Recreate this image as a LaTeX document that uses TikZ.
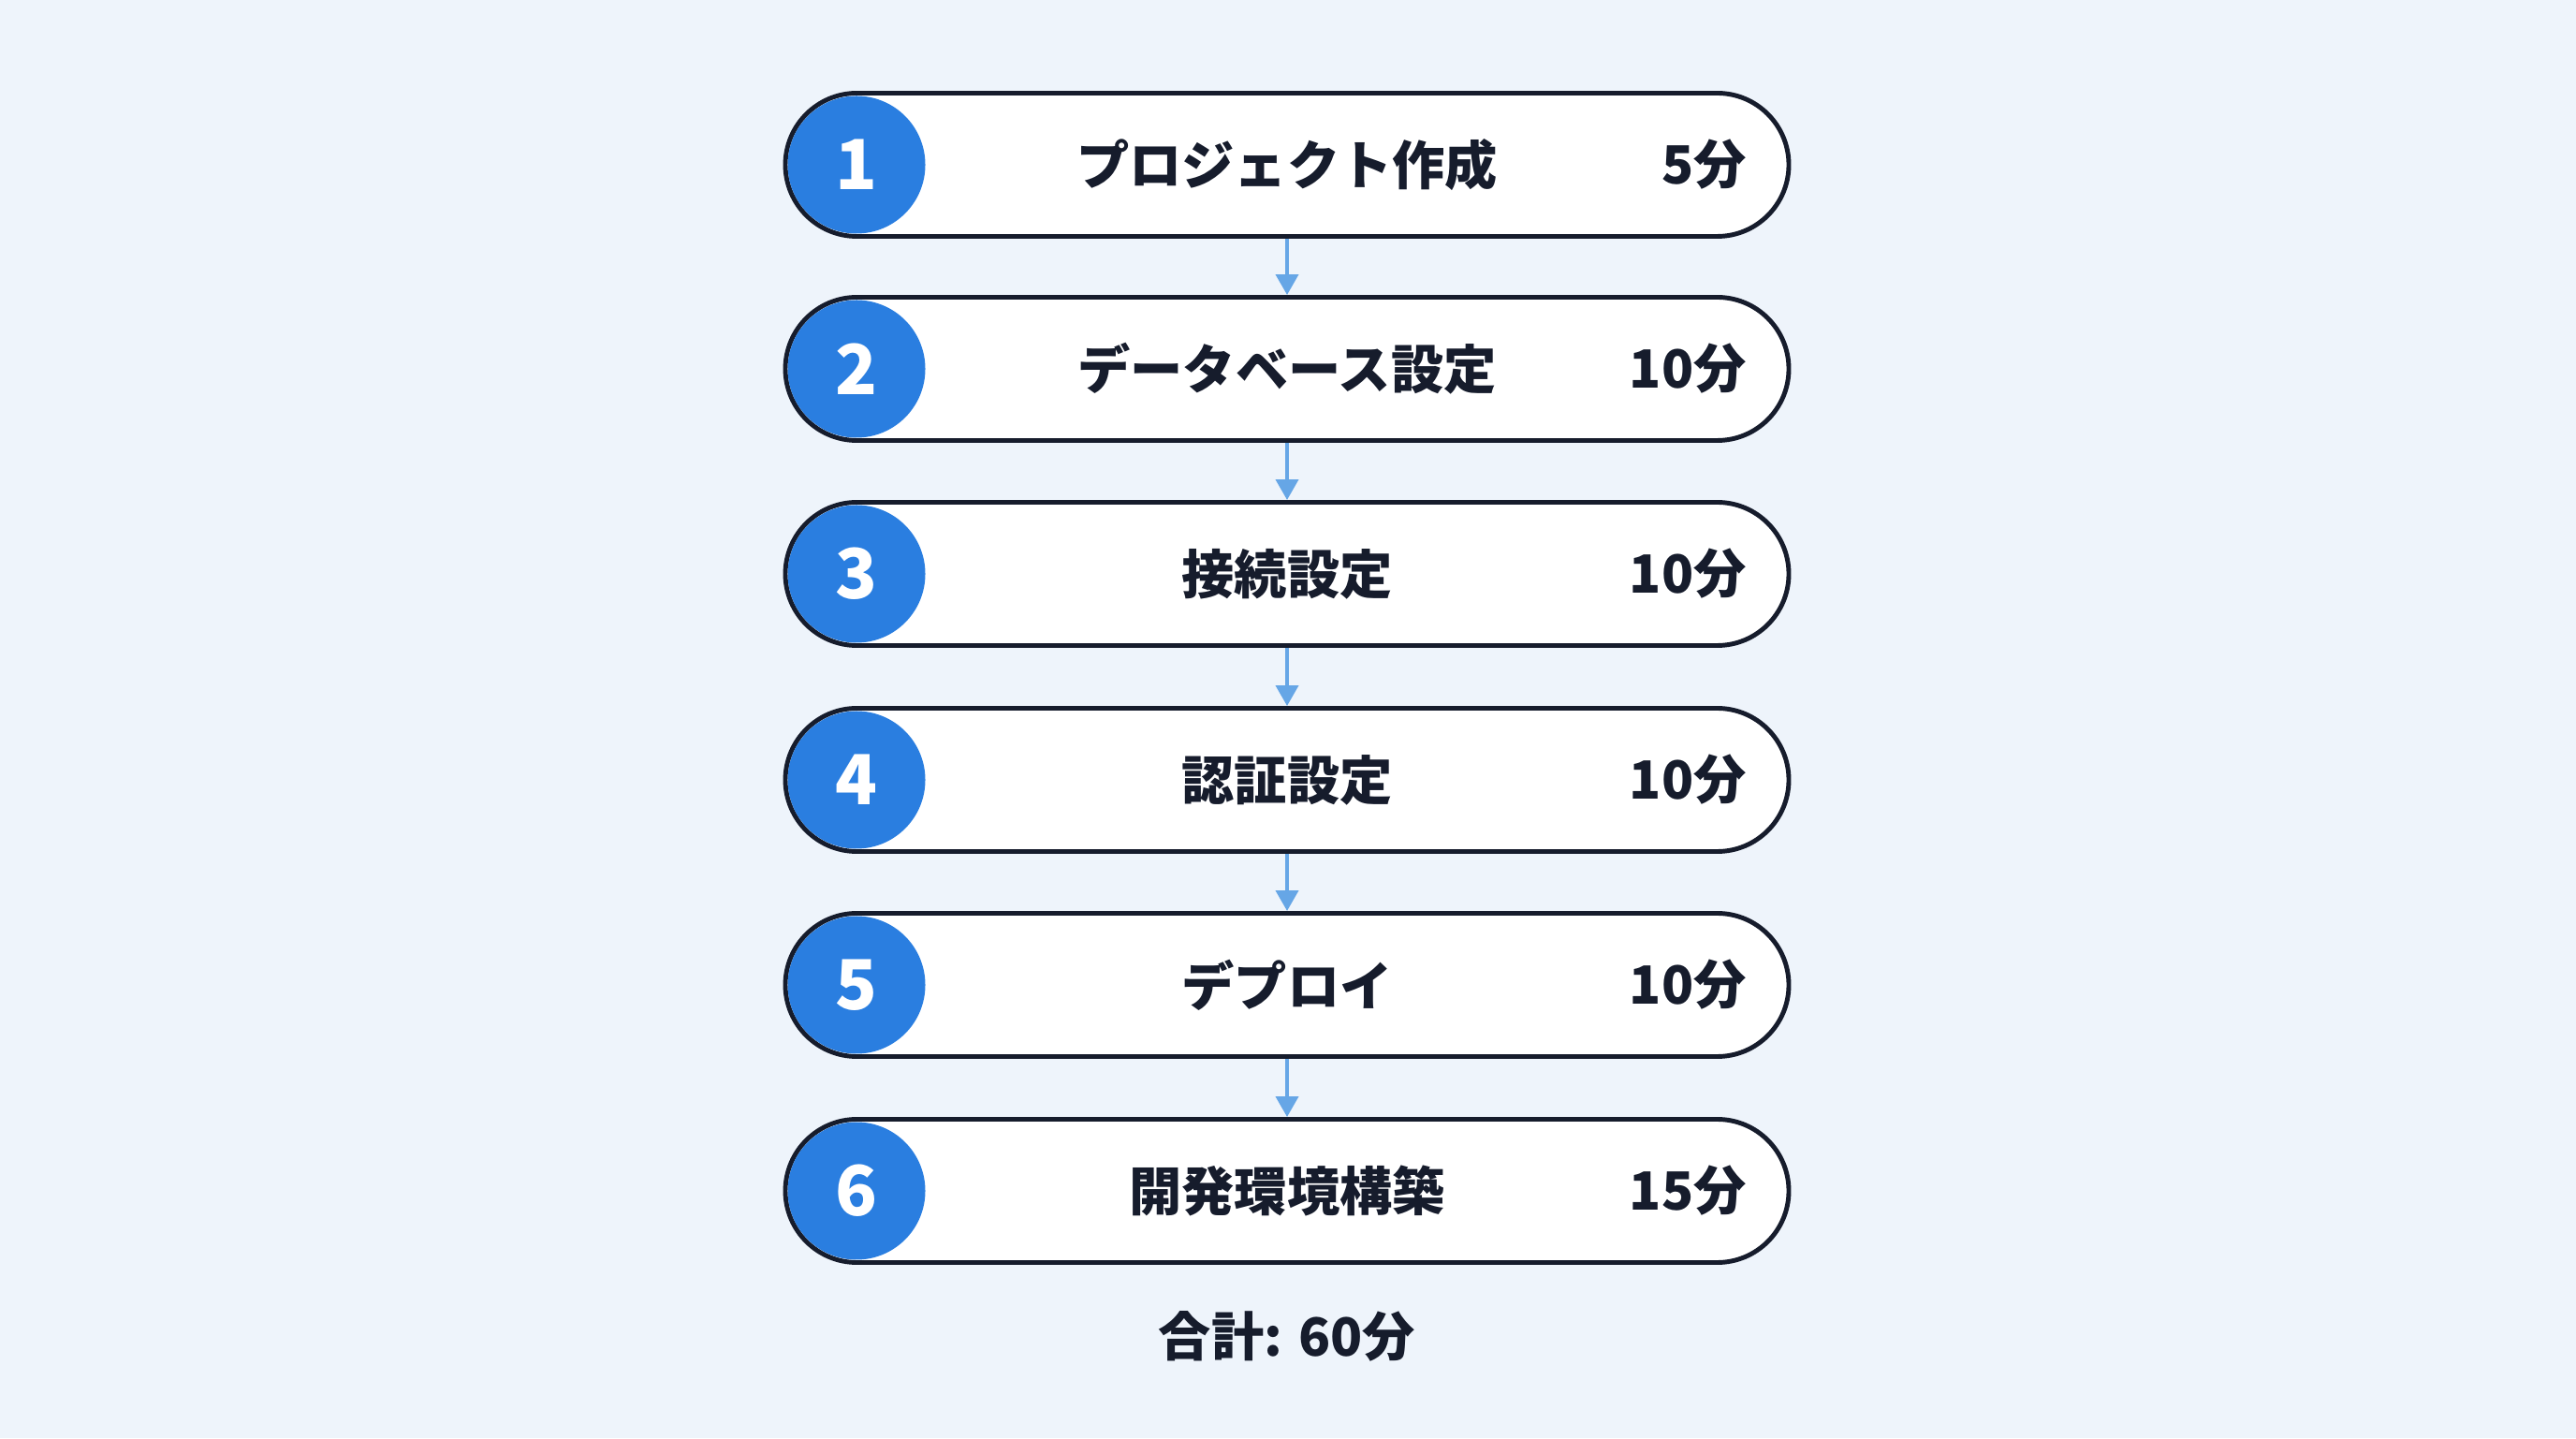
\documentclass[tikz,border=0pt]{standalone}
\usepackage{fontspec}
\setmainfont{Noto Sans CJK JP}
\usetikzlibrary{arrows.meta}

\definecolor{bgpale}{RGB}{238,244,251}
\definecolor{inknavy}{RGB}{22,28,44}
\definecolor{dotblue}{RGB}{42,126,224}
\definecolor{arrowblue}{RGB}{102,166,230}

\begin{document}
\begin{tikzpicture}[
		pillbox/.style={draw=inknavy, fill=white, line width=1.4pt,
			minimum width=10.72cm, minimum height=1.53cm, rounded corners=0.765cm},
		numdot/.style={circle, fill=dotblue, text=white, minimum size=1.47cm,
			inner sep=0pt, font=\bfseries\fontsize{21}{21}\selectfont},
		steplabel/.style={text=inknavy, font=\bfseries\fontsize{16}{16}\selectfont},
		minutes/.style={text=inknavy, anchor=east, font=\bfseries\fontsize{16}{16}\selectfont},
		flowarrow/.style={draw=arrowblue, line width=1.1pt,
			-{Triangle[length=0.22cm, width=0.24cm]}}]

		% Draw the background
		\fill[bgpale] (0,0) rectangle (27.52,15.36);
		\useasboundingbox (0,0) rectangle (27.52,15.36);

		% Draw the step boxes
		\node[pillbox] (step1) at (13.75,13.60) {};
		\node[pillbox] (step2) at (13.75,11.42) {};
		\node[pillbox] (step3) at (13.75, 9.23) {};
		\node[pillbox] (step4) at (13.75, 7.03) {};
		\node[pillbox] (step5) at (13.75, 4.84) {};
		\node[pillbox] (step6) at (13.75, 2.64) {};

		% Draw the numbered circles
		\node[numdot] (num1) at (9.15,13.60) {1};
		\node[numdot] (num2) at (9.15,11.42) {2};
		\node[numdot] (num3) at (9.15, 9.23) {3};
		\node[numdot] (num4) at (9.15, 7.03) {4};
		\node[numdot] (num5) at (9.15, 4.84) {5};
		\node[numdot] (num6) at (9.15, 2.64) {6};

		% Draw the step names
		\node[steplabel] (name1) at (step1.center) {プロジェクト作成};
		\node[steplabel] (name2) at (step2.center) {データベース設定};
		\node[steplabel] (name3) at (step3.center) {接続設定};
		\node[steplabel] (name4) at (step4.center) {認証設定};
		\node[steplabel] (name5) at (step5.center) {デプロイ};
		\node[steplabel] (name6) at (step6.center) {開発環境構築};

		% Draw the durations
		\node[minutes] (time1) at (18.78,13.60) {5分};
		\node[minutes] (time2) at (18.78,11.42) {10分};
		\node[minutes] (time3) at (18.78, 9.23) {10分};
		\node[minutes] (time4) at (18.78, 7.03) {10分};
		\node[minutes] (time5) at (18.78, 4.84) {10分};
		\node[minutes] (time6) at (18.78, 2.64) {15分};

		% Draw the arrows between the steps
		\draw[flowarrow] (step1.south) -- (step2.north);
		\draw[flowarrow] (step2.south) -- (step3.north);
		\draw[flowarrow] (step3.south) -- (step4.north);
		\draw[flowarrow] (step4.south) -- (step5.north);
		\draw[flowarrow] (step5.south) -- (step6.north);

		% Draw the total
		\node[steplabel] (total) at (13.75,1.09) {合計: 60分};
	\end{tikzpicture}
\end{document}
